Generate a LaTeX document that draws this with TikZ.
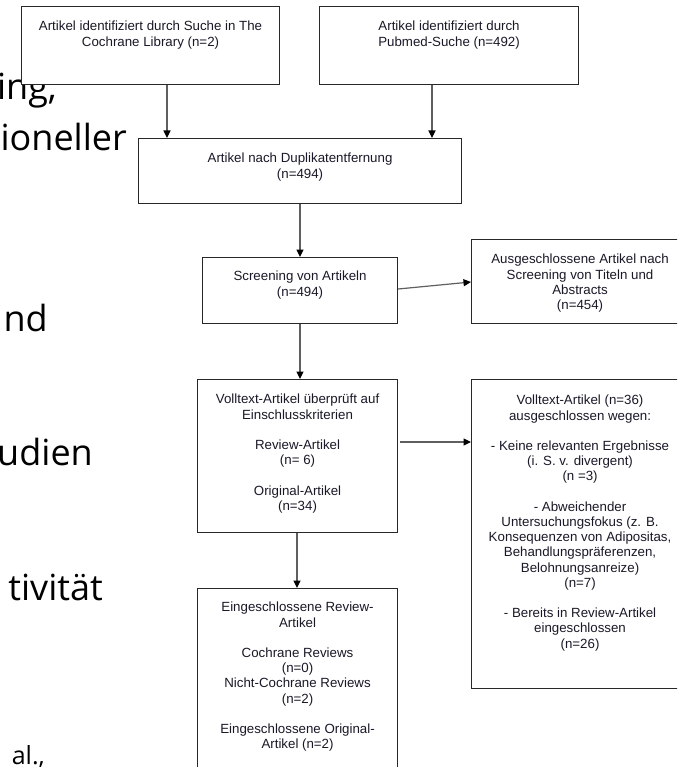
\documentclass[tikz,border=0pt]{standalone}
\usepackage{fontspec}
\setmainfont{Liberation Sans}
\newfontfamily\slidefont{Open Sans}
\usetikzlibrary{arrows.meta}
\definecolor{boxline}{RGB}{40,40,40}
\definecolor{arrline}{RGB}{95,95,95}
\definecolor{txtcol}{RGB}{25,25,40}
\begin{document}
\begin{tikzpicture}[x=1pt,y=-1pt,
  flowbox/.style={draw=boxline,line width=1.1pt,fill=white,inner sep=0pt,anchor=north west},
  boxtext/.style={anchor=north,inner sep=0pt,align=center,text=txtcol,font=\fontsize{13.3}{15.2}\selectfont,yshift=-15pt},
  slidetext/.style={anchor=base east,inner sep=0pt,text=black,font=\slidefont\fontsize{36}{42}\selectfont},
  arr/.style={draw=arrline,line width=1.2pt,-{Triangle[width=7pt,length=7.5pt,color=black]}}]
\useasboundingbox (0,0) rectangle (677,767);
\clip (0,0) rectangle (677,767);
\fill[white] (0,0) rectangle (677,767);
% fragments of slide text behind the diagram
\node[slidetext] (s1) at (57,100) {ing,};
\node[slidetext] (s2) at (127,151) {ioneller};
\node[slidetext] (s3) at (48,331) {nd};
\node[slidetext] (s4) at (93,465) {udien};
\node[slidetext] (s5) at (103,600) {tivität};
\node[slidetext,font=\slidefont\fontsize{25}{30}\selectfont] (s6) at (45,764) {al.,};
% boxes
\node[flowbox,minimum width=258pt,minimum height=78pt] (b1) at (21,6) {};
\node[flowbox,minimum width=259pt,minimum height=78pt] (b2) at (319,6) {};
\node[flowbox,minimum width=323pt,minimum height=65pt] (b3) at (138,138) {};
\node[flowbox,minimum width=195pt,minimum height=66pt] (b4) at (202,257) {};
\node[flowbox,minimum width=217pt,minimum height=84pt] (b5) at (471,239) {};
\node[flowbox,minimum width=200pt,minimum height=153pt] (b6) at (197,379) {};
\node[flowbox,minimum width=217pt,minimum height=309pt] (b7) at (471,379) {};
\node[flowbox,minimum width=200pt,minimum height=200pt] (b8) at (197,588) {};
% box texts
\node[boxtext] (t1) at (b1.north) {Artikel identifiziert durch Suche in The\\Cochrane Library (n=2)};
\node[boxtext] (t2) at (b2.north) {Artikel identifiziert durch\\Pubmed-Suche (n=492)};
\node[boxtext] (t3) at (b3.north) {Artikel nach Duplikatentfernung\\(n=494)};
\node[boxtext,yshift=1pt] (t4) at (b4.north) {Screening von Artikeln\\(n=494)};
\node[boxtext] (t5) at (b5.north) {Ausgeschlossene Artikel nach\\Screening von Titeln und\\Abstracts\\(n=454)};
\node[boxtext] (t6) at (b6.north) {Volltext-Artikel überprüft auf\\Einschlusskriterien\\[15.2pt]Review-Artikel\\(n= 6)\\[15.2pt]Original-Artikel\\(n=34)};
\node[boxtext,yshift=-1pt] (t7) at (b7.north) {Volltext-Artikel (n=36)\\ausgeschlossen wegen:\\[15.2pt]- Keine relevanten Ergebnisse\\(i. S. v. divergent)\\(n =3)\\[15.2pt]- Abweichender\\Untersuchungsfokus (z. B.\\Konsequenzen von Adipositas,\\Behandlungspräferenzen,\\Belohnungsanreize)\\(n=7)\\[15.2pt]- Bereits in Review-Artikel\\eingeschlossen\\(n=26)};
\node[boxtext,yshift=1pt] (t8) at (b8.north) {Eingeschlossene Review-\\Artikel\\[15.2pt]Cochrane Reviews\\(n=0)\\Nicht-Cochrane Reviews\\(n=2)\\[15.2pt]Eingeschlossene Original-\\Artikel (n=2)};
% connectors
\draw[arr] (b1.south -| 167,0) -- (b3.north -| 167,0);
\draw[arr] (b2.south -| 432,0) -- (b3.north -| 432,0);
\draw[arr] (b3.south -| 300,0) -- (b4.north -| 300,0);
\draw[arr] (b4.east |- 0,289) -- (b5.west |- 0,282);
\draw[arr] (b4.south -| 300,0) -- (b6.north -| 300,0);
\draw[arr,shorten <=2pt] (b6.east |- 0,442) -- (b7.west |- 0,442);
\draw[arr] (b6.south -| 297,0) -- (b8.north -| 297,0);
\end{tikzpicture}
\end{document}
